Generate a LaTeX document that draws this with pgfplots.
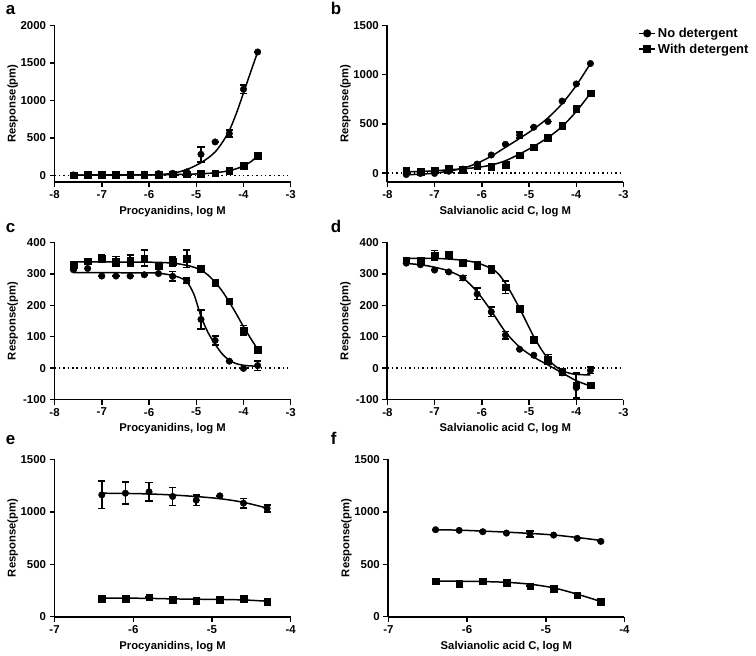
\documentclass[border=0pt]{standalone}
\usepackage{pgfplots}
\pgfplotsset{compat=1.18}
\usepackage{fontspec}
\setmainfont{Liberation Sans}
\begin{document}
\pgfplotsset{
  gp/.style={
    scale only axis, width=237pt,
    axis lines=left,
    axis line style={-, line width=1.8pt},
    every tick/.style={black, line width=1.5pt},
    tick align=outside, major tick length=5pt,
    ticklabel style={font=\bfseries\fontsize{11.5}{13}\selectfont},
    /pgf/number format/assume math mode=true,
    /pgf/number format/1000 sep={},
    scaled ticks=false,
    ylabel={Response(pm)},
    every axis y label/.style={at={(axis description cs:0,0.5)}, rotate=90, anchor=center, yshift=42pt, font=\bfseries\fontsize{11.3}{13}\selectfont},
    every axis x label/.style={at={(axis description cs:0.5,0)}, anchor=center, yshift=-29.5pt, font=\bfseries\fontsize{11.3}{13}\selectfont},
    anchor=south west,
    clip=false,
  },
  cur/.style={black, line width=1.5pt, smooth, no markers, forget plot},
  dat/.style={black, only marks, mark size=3.3pt, forget plot,
    error bars/y dir=both, error bars/y explicit,
    error bars/error bar style={line width=1.6pt},
    error bars/error mark options={rotate=90, line width=1.6pt, mark size=3.6pt}},
  zl/.style={black, line width=1.4pt, dash pattern=on 1.4pt off 3pt, forget plot},
}
\begin{tikzpicture}
\useasboundingbox (0,0) rectangle (756pt,658pt);
\begin{scope}[every node/.style={anchor=base west, inner sep=0pt, font=\bfseries\fontsize{17}{19}\selectfont}]
\node at (3pt,643pt) {a};
\node at (329pt,643pt) {b};
\node at (3pt,425pt) {c};
\node at (329pt,425pt) {d};
\node at (3pt,212pt) {e};
\node at (329pt,212pt) {f};
\end{scope}

% ---------------- a ----------------
\begin{axis}[gp, at={(52pt,475.3pt)}, height=157.3pt,
  xmin=-8, xmax=-3, ymin=-85, ymax=2000,
  xtick={-8,-7,-6,-5,-4,-3}, ytick={0,500,1000,1500,2000},
  xlabel={Procyanidins, log M}]
\addplot[zl] coordinates {(-8,0) (-3,0)};
\addplot[cur] coordinates {(-7.6,8) (-7.0,9) (-6.4,10) (-6.0,11) (-5.8,13) (-5.65,20) (-5.5,32) (-5.35,52) (-5.2,82) (-5.05,122) (-4.9,172) (-4.75,235) (-4.6,315) (-4.45,440) (-4.3,600) (-4.15,830) (-4.0,1100) (-3.85,1375) (-3.7,1645)};
\addplot[cur] coordinates {(-7.6,5) (-6.5,8) (-5.8,11) (-5.5,14) (-5.2,18) (-4.9,25) (-4.75,30) (-4.6,38) (-4.45,50) (-4.3,66) (-4.15,92) (-4.0,128) (-3.85,182) (-3.7,262)};
\addplot[dat, mark=*] table[x=x, y=y, y error=e] {
x y e
-7.6 9 0
-7.3 13 0
-7.0 13 0
-6.7 13 0
-6.4 13 0
-6.1 18 0
-5.8 27 0
-5.5 31 0
-5.2 49 0
-4.9 284 100
-4.6 448 0
-4.3 560 45
-4.0 1149 55
-3.7 1645 0
};
\addplot[dat, mark=square*] table[x=x, y=y, y error=e] {
x y e
-7.6 4 0
-7.3 9 0
-7.0 9 0
-6.7 9 0
-6.4 9 0
-6.1 13 0
-5.8 13 0
-5.5 18 0
-5.2 18 0
-4.9 22 0
-4.6 35 0
-4.3 67 0
-4.0 129 0
-3.7 262 0
};
\end{axis}

% ---------------- b ----------------
\begin{axis}[gp, at={(386pt,475.3pt)}, height=157.3pt,
  xmin=-8, xmax=-3, ymin=-90, ymax=1500,
  xtick={-8,-7,-6,-5,-4,-3}, ytick={0,500,1000,1500},
  xlabel={Salvianolic acid C, log M},
  legend style={at={(1.05,1.01)}, anchor=north west, draw=none, fill=none,
    font=\bfseries\fontsize{13}{15}\selectfont, row sep=1pt},
  legend cell align=left,
  legend image code/.code={\draw[mark repeat=2,mark phase=2] plot coordinates {(0pt,0pt) (8pt,0pt) (16pt,0pt)};}]
\addlegendimage{black, line width=1.5pt, mark=*, mark size=3.3pt}
\addlegendentry{No detergent}
\addlegendimage{black, line width=1.5pt, mark=square*, mark size=3.3pt}
\addlegendentry{With detergent}
\addplot[zl] coordinates {(-8,0) (-3,0)};
\addplot[cur] coordinates {(-7.6,-17) (-7.3,-10) (-7.0,0) (-6.7,20) (-6.4,50) (-6.1,100) (-5.8,172) (-5.5,262) (-5.2,352) (-4.9,448) (-4.6,560) (-4.3,705) (-4.0,890) (-3.7,1112)};
\addplot[cur] coordinates {(-7.6,14) (-7.3,17) (-7.0,24) (-6.7,34) (-6.4,44) (-6.1,58) (-5.8,82) (-5.5,126) (-5.2,194) (-4.9,272) (-4.6,361) (-4.3,473) (-4.0,626) (-3.7,810)};
\addplot[dat, mark=*] table[x=x, y=y, y error=e] {
x y e
-7.6 -14 0
-7.3 -3 0
-7.0 -3 0
-6.7 20 0
-6.4 41 0
-6.1 92 0
-5.8 184 0
-5.5 293 0
-5.2 388 30
-4.9 466 0
-4.6 524 0
-4.3 731 0
-4.0 905 0
-3.7 1112 0
};
\addplot[dat, mark=square*] table[x=x, y=y, y error=e] {
x y e
-7.6 24 0
-7.3 17 0
-7.0 31 0
-6.7 48 0
-6.4 34 0
-6.1 75 20
-5.8 68 0
-5.5 88 0
-5.2 180 0
-4.9 265 0
-4.6 361 0
-4.3 483 0
-4.0 653 0
-3.7 810 0
};
\end{axis}

% ---------------- c ----------------
\begin{axis}[gp, at={(52pt,257pt)}, height=157.7pt,
  xmin=-8, xmax=-3, ymin=-100, ymax=400,
  xtick={-8,-7,-6,-5,-4,-3}, ytick={-100,0,100,200,300,400},
  xlabel={Procyanidins, log M}]
\addplot[zl] coordinates {(-8,0) (-3,0)};
\addplot[cur] coordinates {(-7.6,304) (-6.0,303) (-5.8,302) (-5.65,299) (-5.5,295) (-5.35,288) (-5.2,275) (-5.05,235) (-4.9,165) (-4.75,113) (-4.6,76) (-4.45,45) (-4.3,25) (-4.15,14) (-4.0,9) (-3.85,7) (-3.7,6)};
\addplot[cur] coordinates {(-7.6,338) (-6.0,337) (-5.5,334) (-5.2,327) (-5.05,321) (-4.9,312) (-4.75,296) (-4.6,273) (-4.45,245) (-4.3,210) (-4.15,172) (-4.0,132) (-3.85,95) (-3.7,60)};
\addplot[dat, mark=*] table[x=x, y=y, y error=e] {
x y e
-7.6 313 0
-7.3 317 0
-7.0 293 0
-6.7 293 0
-6.4 293 0
-6.1 297 0
-5.8 301 0
-5.5 292 15
-5.2 278 8
-4.9 155 30
-4.6 88 15
-4.3 22 0
-4.0 -1 0
-3.7 8 15
};
\addplot[dat, mark=square*] table[x=x, y=y, y error=e] {
x y e
-7.6 329 5
-7.3 340 0
-7.0 348 12
-6.7 340 15
-6.4 342 18
-6.1 350 25
-5.8 324 8
-5.5 338 15
-5.2 348 28
-4.9 316 0
-4.6 271 0
-4.3 213 0
-4.0 120 15
-3.7 59 0
};
\end{axis}

% ---------------- d ----------------
\begin{axis}[gp, at={(386pt,257pt)}, height=157.7pt,
  xmin=-8, xmax=-3, ymin=-100, ymax=400,
  xtick={-8,-7,-6,-5,-4,-3}, ytick={-100,0,100,200,300,400},
  xlabel={Salvianolic acid C, log M}]
\addplot[zl] coordinates {(-8,0) (-3,0)};
\addplot[cur] coordinates {(-7.6,333) (-7.3,329) (-7.0,321) (-6.7,309) (-6.4,287) (-6.1,243) (-5.8,182) (-5.5,115) (-5.2,67) (-4.9,35) (-4.6,10) (-4.3,-15) (-4.0,-40) (-3.7,-57)};
\addplot[cur] coordinates {(-7.6,349) (-7.0,349) (-6.7,347) (-6.4,343) (-6.1,335) (-5.8,317) (-5.65,300) (-5.5,270) (-5.35,232) (-5.2,190) (-5.05,145) (-4.9,100) (-4.75,62) (-4.6,30) (-4.45,7) (-4.3,-8) (-4.15,-16) (-4.0,-20) (-3.7,-22)};
\addplot[dat, mark=*] table[x=x, y=y, y error=e] {
x y e
-7.6 334 0
-7.3 329 0
-7.0 312 0
-6.7 306 0
-6.4 287 8
-6.1 236 18
-5.8 179 15
-5.5 105 12
-5.2 60 0
-4.9 41 0
-4.6 24 0
-4.3 -15 0
-4.0 -62 0
-3.7 -7 10
};
\addplot[dat, mark=square*] table[x=x, y=y, y error=e] {
x y e
-7.6 343 8
-7.3 342 0
-7.0 359 15
-6.7 361 0
-6.4 336 8
-6.1 327 12
-5.8 314 12
-5.5 257 20
-5.2 189 0
-4.9 91 0
-4.6 28 15
-4.3 -12 0
-4.0 -55 40
-3.7 -54 0
};
\end{axis}

% ---------------- e ----------------
\begin{axis}[gp, at={(52pt,39pt)}, height=158pt,
  xmin=-7, xmax=-4, ymin=0, ymax=1500,
  xtick={-7,-6,-5,-4}, ytick={0,500,1000,1500},
  xlabel={Procyanidins, log M}]
\addplot[cur] coordinates {(-6.4,1177) (-6.1,1175) (-5.8,1170) (-5.5,1160) (-5.2,1145) (-4.9,1125) (-4.6,1090) (-4.3,1035)};
\addplot[cur] coordinates {(-6.4,177) (-6.1,177) (-5.8,175) (-5.5,170) (-5.2,167) (-4.9,165) (-4.6,160) (-4.3,148)};
\addplot[dat, mark=*] table[x=x, y=y, y error=e] {
x y e
-6.4 1161 130
-6.1 1177 105
-5.8 1190 90
-5.5 1146 85
-5.2 1111 50
-4.9 1152 0
-4.6 1082 45
-4.3 1032 35
};
\addplot[dat, mark=square*] table[x=x, y=y, y error=e] {
x y e
-6.4 174 0
-6.1 174 0
-5.8 187 0
-5.5 161 0
-5.2 155 0
-4.9 165 0
-4.6 171 0
-4.3 146 0
};
\end{axis}

% ---------------- f ----------------
\begin{axis}[gp, at={(387pt,39pt)}, height=158pt,
  xmin=-7, xmax=-4, ymin=0, ymax=1500,
  xtick={-7,-6,-5,-4}, ytick={0,500,1000,1500},
  xlabel={Salvianolic acid C, log M}]
\addplot[cur] coordinates {(-6.4,829) (-6.1,825) (-5.8,816) (-5.5,806) (-5.2,794) (-4.9,779) (-4.6,755) (-4.3,727)};
\addplot[cur] coordinates {(-6.4,339) (-6.1,338) (-5.8,335) (-5.5,328) (-5.2,310) (-4.9,275) (-4.6,215) (-4.3,145)};
\addplot[dat, mark=*] table[x=x, y=y, y error=e] {
x y e
-6.4 829 0
-6.1 823 0
-5.8 810 0
-5.5 797 0
-5.2 788 30
-4.9 778 0
-4.6 747 0
-4.3 718 0
};
\addplot[dat, mark=square*] table[x=x, y=y, y error=e] {
x y e
-6.4 339 0
-6.1 315 18
-5.8 339 0
-5.5 323 0
-5.2 291 0
-4.9 266 0
-4.6 206 0
-4.3 142 0
};
\end{axis}
\end{tikzpicture}
\end{document}
